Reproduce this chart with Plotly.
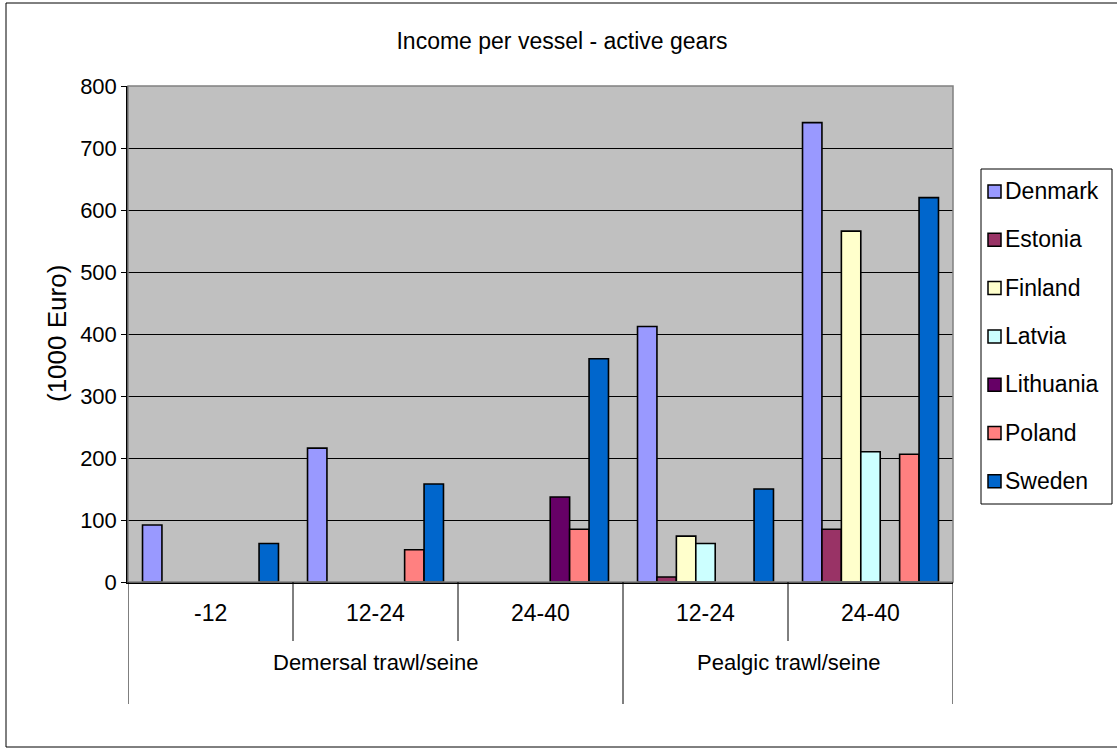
import plotly.graph_objects as go

# Fleet segments: gear group and vessel length class
gear_groups = ["Demersal trawl/seine", "Demersal trawl/seine", "Demersal trawl/seine",
               "Pealgic trawl/seine", "Pealgic trawl/seine"]
length_classes = ["-12", "12-24", "24-40", "12-24", "24-40"]

# Income per vessel (1000 Euro); None = no fleet in that segment
countries = ["Denmark", "Estonia", "Finland", "Latvia", "Lithuania", "Poland", "Sweden"]
denmark = [92, 216, None, 412, 741]
estonia = [None, None, None, 8, 85]
finland = [None, None, None, 74, 566]
latvia = [None, None, None, 62, 210]
lithuania = [None, None, 137, None, None]
poland = [None, 52, 85, None, 206]
sweden = [62, 158, 360, 150, 620]

y_ticks = [0, 100, 200, 300, 400, 500, 600, 700, 800]

series = [denmark, estonia, finland, latvia, lithuania, poland, sweden]
colors = ["#9999FF", "#993366", "#FFFFCC", "#CCFFFF", "#660066", "#FF8080", "#0066CC"]

FONT = "Arial, 'Liberation Sans', sans-serif"
W, H = 1117, 749
L, R, T, B = 128, 164, 86, 167
plot_w = W - L - R
plot_h = H - T - B


def px_x(px):
    return (px - L) / plot_w


def px_y(py):
    return (H - B - py) / plot_h


cats = [f"{g} | {s}" for g, s in zip(gear_groups, length_classes)]

fig = go.Figure()
for name, vals, col in zip(countries, series, colors):
    fig.add_trace(go.Bar(
        x=cats, y=vals, name=name, showlegend=False,
        marker=dict(color=col, line=dict(color="black", width=1.6)),
    ))

shapes = []
annotations = []

# outer chart frame
shapes.append(dict(type="rect", xref="paper", yref="paper",
                   x0=px_x(6), x1=px_x(1125), y0=px_y(747), y1=px_y(3),
                   line=dict(color="black", width=1), layer="below"))
# plot area frame (top/right)
shapes.append(dict(type="rect", xref="paper", yref="paper", x0=0, x1=1, y0=0, y1=1,
                   line=dict(color="#808080", width=1.5)))

# category separators below the axis
n = len(cats)
for i in range(n + 1):
    at_group_edge = (i == 0 or i == n or gear_groups[i] != gear_groups[i - 1])
    shapes.append(dict(type="line", xref="x", yref="paper",
                       x0=i - 0.5, x1=i - 0.5, y0=0,
                       y1=px_y(704) if at_group_edge else px_y(641),
                       line=dict(color="black", width=1)))

# length class labels
for i, s in enumerate(length_classes):
    annotations.append(dict(x=i, y=px_y(613), xref="x", yref="paper", text=s,
                            showarrow=False, font=dict(family=FONT, size=23, color="black"),
                            yanchor="middle"))

# gear group labels
seen = []
for g in gear_groups:
    if g not in seen:
        seen.append(g)
for g in seen:
    idx = [i for i, gg in enumerate(gear_groups) if gg == g]
    annotations.append(dict(x=sum(idx) / len(idx), y=px_y(662), xref="x", yref="paper",
                            text=g, showarrow=False,
                            font=dict(family=FONT, size=22, color="black"),
                            yanchor="middle"))

# y axis title
annotations.append(dict(x=px_x(40), y=px_y(334), xref="paper", yref="paper",
                        text="(1000 Euro)", textangle=-90, showarrow=False,
                        font=dict(family=FONT, size=26, color="black")))

# legend box with one swatch per country
leg_x0, leg_x1, leg_y0, leg_y1 = 981, 1112, 169, 504
shapes.append(dict(type="rect", xref="paper", yref="paper",
                   x0=px_x(leg_x0), x1=px_x(leg_x1), y0=px_y(leg_y1), y1=px_y(leg_y0),
                   line=dict(color="black", width=1), fillcolor="white"))
for k, (name, col) in enumerate(zip(countries, colors)):
    cy = 191 + k * 48.3
    shapes.append(dict(type="rect", xref="paper", yref="paper",
                       x0=px_x(988), x1=px_x(1001), y0=px_y(cy + 7), y1=px_y(cy - 6),
                       line=dict(color="black", width=1.5), fillcolor=col))
    annotations.append(dict(x=px_x(1003), y=px_y(cy), xref="paper", yref="paper",
                            text=name, showarrow=False, xanchor="left", yanchor="middle",
                            font=dict(family=FONT, size=23, color="black")))

fig.update_layout(
    width=W, height=H,
    margin=dict(l=L, r=R, t=T, b=B, autoexpand=False),
    paper_bgcolor="white",
    plot_bgcolor="#C0C0C0",
    font=dict(family=FONT, size=22, color="black"),
    title=dict(text="Income per vessel - active gears", x=562 / W, xref="container",
               xanchor="center", y=1 - 41 / H, yref="container", yanchor="middle",
               font=dict(family=FONT, size=23, color="black")),
    barmode="group",
    bargap=0.176,
    bargroupgap=0,
    showlegend=False,
    shapes=shapes,
    annotations=annotations,
)

fig.update_xaxes(type="category", categoryorder="array", categoryarray=cats,
                 showticklabels=False, ticks="", showgrid=False,
                 showline=True, linecolor="black", linewidth=1.5,
                 range=[-0.5, n - 0.5], zeroline=False)
fig.update_yaxes(range=[0, 800], tickvals=y_ticks, ticks="outside", ticklen=5,
                 tickcolor="black", showgrid=True, gridcolor="black", gridwidth=1,
                 showline=True, linecolor="black", linewidth=1.5, zeroline=False,
                 tickfont=dict(family=FONT, size=22, color="black"))

fig.write_html("out.html")
